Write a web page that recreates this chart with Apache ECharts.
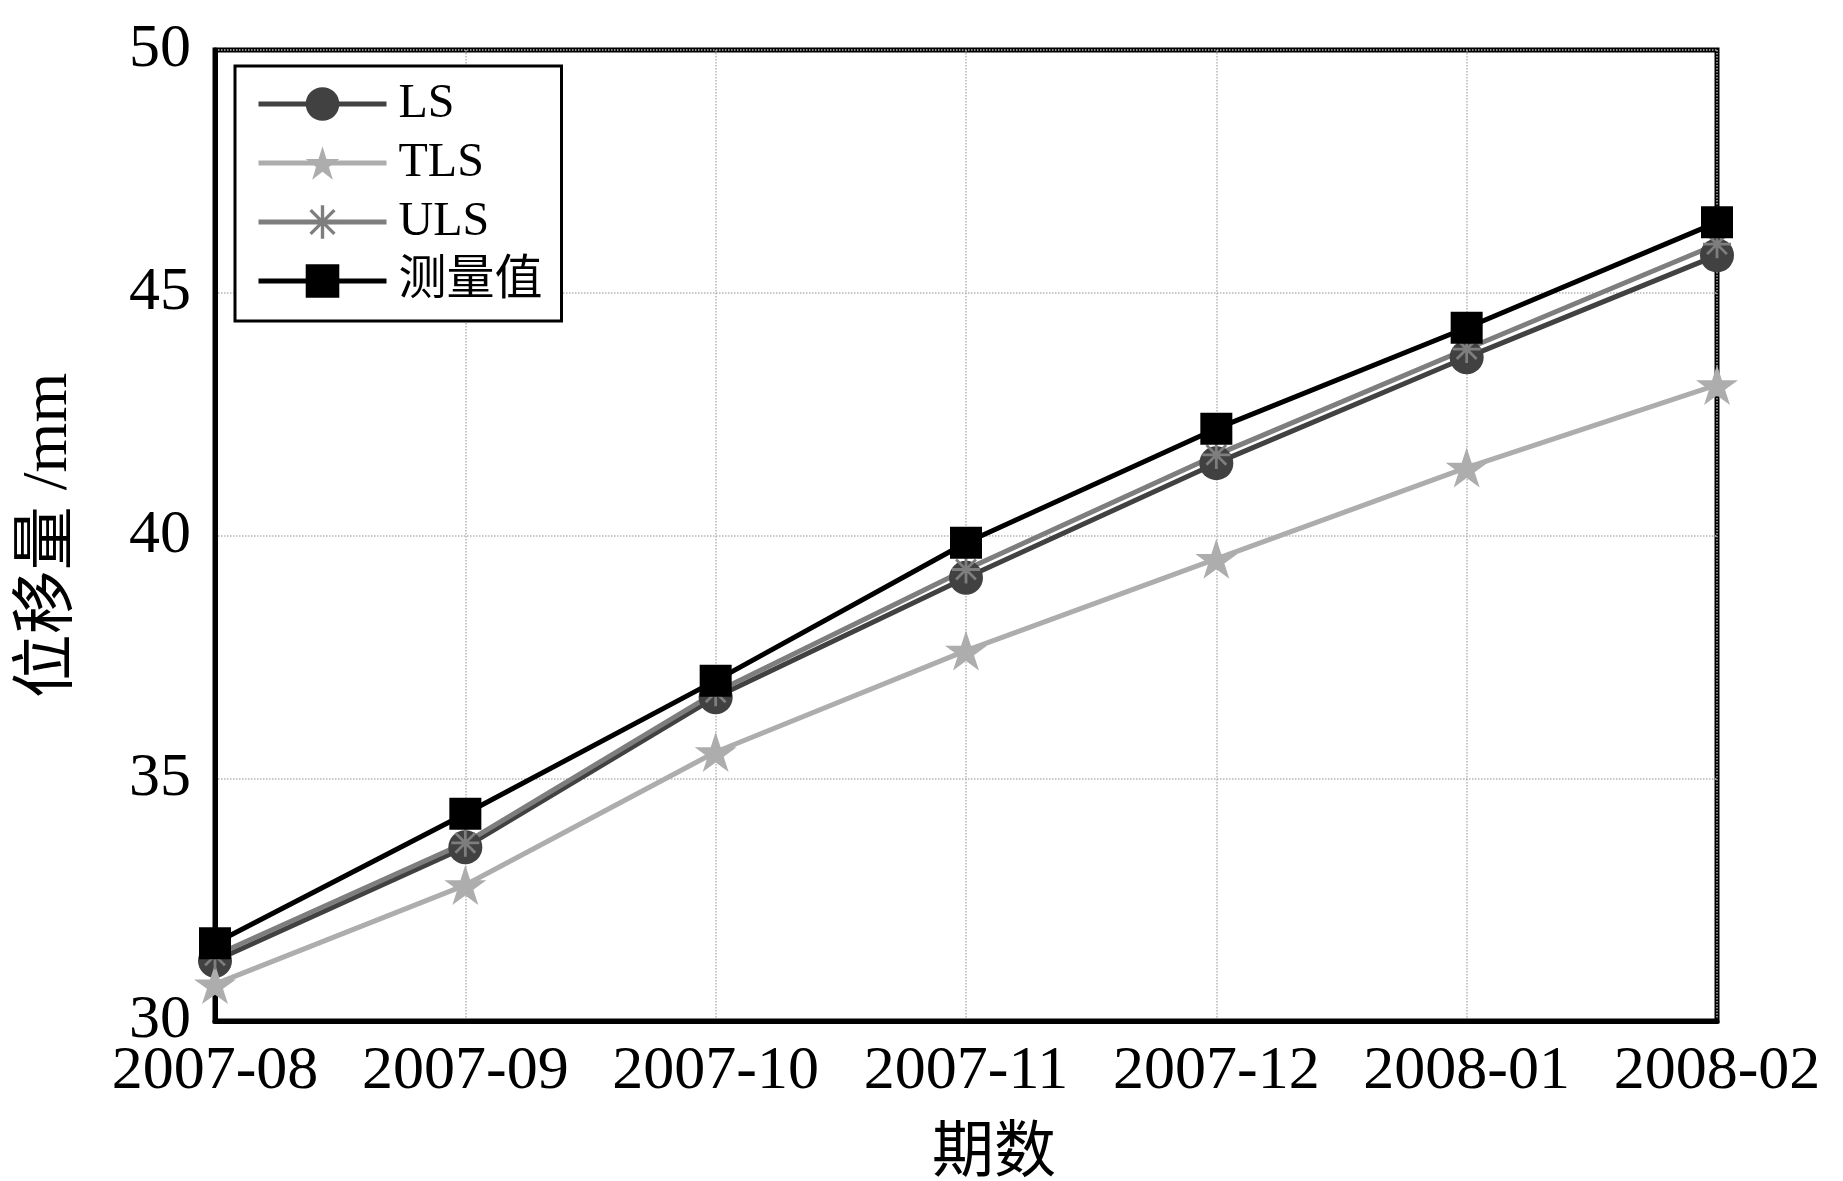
<!DOCTYPE html>
<html>
<head>
<meta charset="utf-8">
<script src="https://cdn.jsdelivr.net/npm/echarts@6/dist/echarts.min.js"></script>
<style>
html,body{margin:0;padding:0;background:#fff;}
#chart{width:1843px;height:1181px;}
</style>
</head>
<body>
<div id="chart"></div>
<script>
const categories = ['2007-08','2007-09','2007-10','2007-11','2007-12','2008-01','2008-02'];
const lsValues  = [31.24, 33.58, 36.67, 39.13, 41.49, 43.67, 45.77];
const tlsValues = [30.76, 32.80, 35.54, 37.63, 39.52, 41.40, 43.10];
const ulsValues = [31.35, 33.67, 36.77, 39.30, 41.66, 43.84, 46.00];
const measured  = [31.60, 34.27, 37.01, 39.85, 42.20, 44.28, 46.45];
const seriesNames = ['LS','TLS','ULS','测量值'];
const yTicks = {min: 30, max: 50, interval: 5};

const FONT = "'Liberation Serif', 'Noto Sans CJK SC', serif";
const STAR = 'path://M50 0 L61.23 34.55 L97.55 34.55 L68.17 55.9 L79.39 90.45 L50 69.1 L20.61 90.45 L31.83 55.9 L2.45 34.55 L38.77 34.55 Z';
const ASTER = 'path://M45 0 L55 0 L55 100 L45 100 Z M0 45 L100 45 L100 55 L0 55 Z ' +
  'M18.1 11.1 L88.9 81.9 L81.9 88.9 L11.1 18.1 Z M81.9 11.1 L88.9 18.1 L18.1 88.9 L11.1 81.9 Z';

const chart = echarts.init(document.getElementById('chart'));
function mk(name, data, color, symbol, size){
  return {
    name: name, type: 'line', data: data,
    symbol: symbol, symbolSize: size, symbolKeepAspect: true,
    lineStyle: {color: color, width: 5},
    itemStyle: {color: color},
    emphasis: {disabled: true},
    animation: false
  };
}
chart.setOption({
  backgroundColor: '#fff',
  animation: false,
  grid: {left: 215, right: 126, top: 50, bottom: 160, outerBoundsMode: 'none', containLabel: false,
         show: true, borderColor: '#000', borderWidth: 5, backgroundColor: 'transparent'},
  legend: {
    orient: 'vertical', left: 235, top: 66,
    itemWidth: 128, itemHeight: 42, itemGap: 11,
    padding: [14, 19, 16, 21],
    borderColor: '#000', borderWidth: 3, backgroundColor: '#fff',
    lineStyle: {width: 5},
    textStyle: {fontFamily: FONT, fontSize: 48, color: '#000', lineHeight: 48, padding: [0,0,0,7]},
    data: seriesNames
  },
  xAxis: {
    type: 'category', data: categories, boundaryGap: false,
    name: '期数', nameLocation: 'middle', nameGap: 104,
    nameTextStyle: {fontFamily: FONT, fontSize: 62, color: '#000', padding: [0,0,0,56]},
    axisLine: {show: true, lineStyle: {color: '#000', width: 5}},
    axisTick: {show: false},
    axisLabel: {fontFamily: FONT, fontSize: 62, color: '#000', margin: 20, interval: 0},
    splitLine: {show: true, lineStyle: {color: '#b5b5b5', width: 1.5, type: 'dotted'}}
  },
  yAxis: {
    type: 'value', min: yTicks.min, max: yTicks.max, interval: yTicks.interval,
    name: '位移量 /mm', nameLocation: 'middle', nameGap: 134,
    nameTextStyle: {fontFamily: FONT, fontSize: 64, color: '#000'},
    axisLine: {show: true, lineStyle: {color: '#000', width: 5}},
    axisTick: {show: false},
    axisLabel: {fontFamily: FONT, fontSize: 62, color: '#000', margin: 24},
    splitLine: {show: true, lineStyle: {color: '#b5b5b5', width: 1.5, type: 'dotted'}}
  },
  series: [
    mk(seriesNames[0], lsValues, '#414141', 'circle', 34),
    mk(seriesNames[1], tlsValues, '#adadad', STAR, 42),
    mk(seriesNames[2], ulsValues, '#7e7e7e', ASTER, 28),
    mk(seriesNames[3], measured, '#000000', 'rect', 32)
  ]
});
</script>
</body>
</html>
